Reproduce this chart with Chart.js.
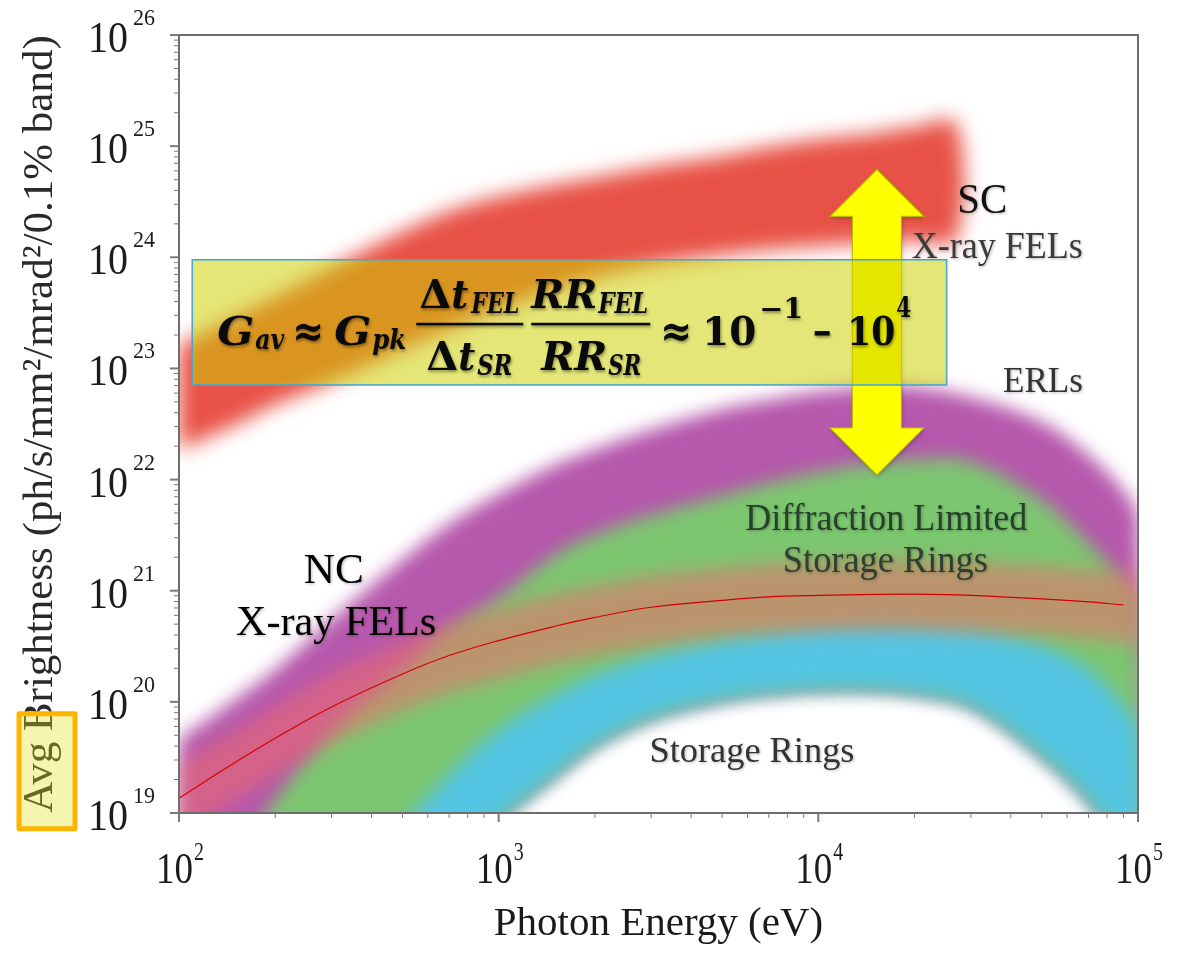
<!DOCTYPE html>
<html><head><meta charset="utf-8">
<script src="https://cdn.jsdelivr.net/npm/chart.js@4.4.1/dist/chart.umd.min.js"></script>
<style>html,body{margin:0;padding:0;background:#fff;overflow:hidden}</style>
</head><body>
<canvas id="c" width="1189" height="953" style="display:block;width:1189px;height:953px"></canvas>
<script>
// ---------------- data ----------------
const xTickValues = [100, 1000, 10000, 100000];
const xTickExponents = ['2', '3', '4', '5'];
const yTickValues = [1e19, 1e20, 1e21, 1e22, 1e23, 1e24, 1e25, 1e26];
const yTickExponents = ['19', '20', '21', '22', '23', '24', '25', '26'];

// SC X-ray FELs (red band)
const scEnergy = [100,150,200,300,500,700,1000,1500,2000,3000,5000,7000,10000,15000,20000,27000];
const scUpper  = [1.6e23,2.9e23,4.4e23,8.1e23,1.7e24,2.6e24,3.5e24,4.5e24,5.2e24,6.5e24,8.1e24,9.8e24,1.15e25,1.3e25,1.5e25,1.6e25];
const scLower  = [1.86e22,3.1e22,4.7e22,7.6e22,1.48e23,2.24e23,3.4e23,5.1e23,6.6e23,8.5e23,1.05e24,1.17e24,1.26e24,1.35e24,1.41e24,1.45e24];

// ERLs / Diffraction Limited Storage Rings / Storage Rings
const ringEnergy = [100,150,200,300,500,700,1000,1500,2000,3000,5000,7000,10000,15000,20000,30000,50000,70000,90000,100000];
const erlUpper  = [4.6e19,1.05e20,1.95e20,5.5e20,1.9e21,4.0e21,7.4e21,1.35e22,1.86e22,2.8e22,4.3e22,5.2e22,6.2e22,6.8e22,6.8e22,5.5e22,3.3e22,1.66e22,7.9e21,4.4e21];
const dlsrUpper = [1.35e18,3.8e18,1.32e19,5.6e19,1.95e20,4.5e20,8.7e20,2.1e21,3.2e21,4.8e21,7.2e21,9.3e21,1.17e22,1.41e22,1.51e22,1.45e22,6.6e21,2.7e21,1.26e21,8.3e20];
const srUpper   = [7.4e16,2.1e17,5.9e17,1.66e18,7.8e18,2.2e19,5.6e19,1.15e20,1.74e20,2.6e20,3.6e20,4.2e20,4.7e20,4.9e20,4.8e20,4.5e20,3.2e20,1.95e20,9.3e19,5.6e19];
const srLower   = [9.3e15,2.6e16,7.4e16,2.1e17,1.1e18,3.1e18,8.7e18,2.2e19,4.1e19,7.2e19,1.05e20,1.2e20,1.29e20,1.29e20,1.2e20,9.3e19,3.3e19,1.32e19,5.0e18,3.1e18];

// NC X-ray FELs (average brightness band + line)
const ncUpper = [2.8e19,5.4e19,9.2e19,1.8e20,3.5e20,5.0e20,6.8e20,9.4e20,1.1e21,1.36e21,1.6e21,1.75e21,1.8e21,1.85e21,1.85e21,1.8e21,1.65e21,1.55e21,1.45e21,1.42e21];
const ncLower = [6.5e18,1.3e19,2.2e19,4.2e19,8.3e19,1.2e20,1.6e20,2.2e20,2.6e20,3.2e20,3.9e20,4.1e20,4.3e20,4.4e20,4.4e20,4.2e20,4.0e20,3.7e20,3.4e20,3.3e20];
const ncLineEnergy = [100,150,200,300,500,700,1000,1500,2000,3000,5000,7000,10000,15000,20000,30000,50000,70000,90000];
const ncLine = [1.36e19,2.86e19,4.71e19,9.0e19,1.78e20,2.61e20,3.56e20,4.79e20,5.75e20,7.1e20,8.18e20,8.79e20,9.07e20,9.27e20,9.31e20,9.07e20,8.43e20,7.93e20,7.45e20];

// ---------------- helpers ----------------
const pts = (xs, ys) => xs.map((x, i) => ({x, y: ys[i]}));
const polygon = (xs, upper, lower) => pts(xs, upper).concat(pts(xs, lower).reverse());
const isDecade = v => { const l = Math.log10(v); return Math.abs(l - Math.round(l)) < 1e-6; };
function logTickList(min, max) {
  const t = [];
  for (let e = Math.round(Math.log10(min)); e < Math.round(Math.log10(max)); e++)
    for (let m = 1; m < 10; m++) t.push({value: m * Math.pow(10, e)});
  t.push({value: max});
  return t;
}
function band(data, color, order, blur) {
  return {data, fill: 'shape', backgroundColor: color, borderWidth: 0, borderColor: 'rgba(0,0,0,0)',
          pointRadius: 0, tension: 0.35, capBezierPoints: false, order, blur};
}
function fitText(ctx, text, x, y, w, font, color, align) {
  ctx.save();
  ctx.font = font; ctx.fillStyle = color; ctx.textBaseline = 'alphabetic'; ctx.textAlign = 'left';
  const m = ctx.measureText(text).width;
  const s = w ? w / m : 1;
  const ww = m * s;
  const x0 = align === 'center' ? x - ww / 2 : (align === 'right' ? x - ww : x);
  ctx.translate(x0, y); ctx.scale(s, 1);
  ctx.fillText(text, 0, 0);
  ctx.restore();
}
const serif = 'Liberation Serif, Times New Roman, serif';

// blur the filled bands (the red NC line stays sharp); frame + tick marks
const blurPlugin = {
  id: 'blurBands',
  setFor(chart, meta) {
    const ds = meta ? chart.data.datasets[meta.index] : null;
    chart.ctx.filter = ds && ds.blur ? 'blur(' + ds.blur + 'px)' : 'none';
  },
  beforeDatasetsDraw(chart) {
    this.seq = chart.getSortedVisibleDatasetMetas().slice().reverse();
    this.setFor(chart, this.seq[0]);
  },
  afterDatasetDraw(chart, args) {
    const i = this.seq.findIndex(m => m.index === args.index);
    this.setFor(chart, this.seq[i + 1]);
  },
  afterDatasetsDraw(chart) {
    chart.ctx.filter = 'none';
    const ctx = chart.ctx, a = chart.chartArea;
    ctx.save();
    ctx.strokeStyle = '#6e6e6e'; ctx.lineWidth = 2;
    ctx.strokeRect(a.left, a.top, a.right - a.left, a.bottom - a.top);
    ctx.strokeStyle = '#7a7a7a';
    chart.scales.y.ticks.forEach(t => {
      const p = chart.scales.y.getPixelForValue(t.value);
      const major = isDecade(t.value);
      ctx.lineWidth = major ? 2 : 1;
      ctx.beginPath(); ctx.moveTo(a.left, p); ctx.lineTo(a.left - (major ? 9 : 5), p); ctx.stroke();
    });
    chart.scales.x.ticks.forEach(t => {
      const p = chart.scales.x.getPixelForValue(t.value);
      const major = isDecade(t.value);
      ctx.lineWidth = major ? 2 : 1;
      ctx.beginPath(); ctx.moveTo(p, a.bottom); ctx.lineTo(p, a.bottom + (major ? 9 : 5)); ctx.stroke();
    });
    ctx.restore();
  }
};

// power-of-ten tick labels: "10" with a raised exponent
const tickLabelPlugin = {
  id: 'tickLabels',
  afterDraw(chart) {
    const ctx = chart.ctx, a = chart.chartArea;
    const col = '#1c1c1c';
    yTickValues.forEach((v, i) => {
      const p = chart.scales.y.getPixelForValue(v);
      fitText(ctx, '10', a.left - 91, p + 17, 40, '44px ' + serif, col, 'left');
      fitText(ctx, yTickExponents[i], a.left - 46, p - 10, 22, '24px ' + serif, col, 'left');
    });
    xTickValues.forEach((v, i) => {
      const p = chart.scales.x.getPixelForValue(v);
      fitText(ctx, '10', p - 23, a.bottom + 70, 37, '45px ' + serif, col, 'left');
      fitText(ctx, xTickExponents[i], p + 15, a.bottom + 47, 10, '25px ' + serif, col, 'left');
    });
  }
};

const annotatePlugin = {
  id: 'annotate',
  afterDraw(chart) {
    const ctx = chart.ctx;
    const X = v => chart.scales.x.getPixelForValue(v);
    const Y = v => chart.scales.y.getPixelForValue(v);

    // ---- region labels ----
    ctx.save();
    ctx.shadowColor = 'rgba(0,0,0,0.28)'; ctx.shadowBlur = 3; ctx.shadowOffsetX = 1; ctx.shadowOffsetY = 1;
    fitText(ctx, 'SC', X(27200), Y(2.5e24), 50, '42px ' + serif, '#111', 'left');
    fitText(ctx, 'X-ray FELs', X(19600), Y(9.9e23), 171, '37px ' + serif, '#3a3a3a', 'left');
    fitText(ctx, 'ERLs', X(37800), Y(6.2e22), 80, '36px ' + serif, '#333', 'left');
    fitText(ctx, 'Diffraction Limited', X(16300), Y(3.5e21), 282, '37px ' + serif, '#27402a', 'center');
    fitText(ctx, 'Storage Rings', X(16200), Y(1.48e21), 205, '37px ' + serif, '#30402f', 'center');
    fitText(ctx, 'Storage Rings', X(6200), Y(2.9e19), 205, '36px ' + serif, '#333', 'center');
    fitText(ctx, 'NC', X(305), Y(1.17e21), 60, '43px ' + serif, '#000', 'center');
    fitText(ctx, 'X-ray FELs', X(310), Y(4.0e20), 200, '42px ' + serif, '#000', 'center');
    ctx.restore();

    // ---- yellow double arrow ----
    const ax = X(15250), yTop = Y(6.17e24), yBot = Y(1.1e22);
    const hw = 47, hh = 47, sw = 24.5;
    ctx.save();
    ctx.shadowColor = 'rgba(0,0,0,0.25)'; ctx.shadowBlur = 4; ctx.shadowOffsetX = 1; ctx.shadowOffsetY = 2;
    ctx.beginPath();
    ctx.moveTo(ax, yTop);
    ctx.lineTo(ax + hw, yTop + hh); ctx.lineTo(ax + sw, yTop + hh);
    ctx.lineTo(ax + sw, yBot - hh); ctx.lineTo(ax + hw, yBot - hh);
    ctx.lineTo(ax, yBot);
    ctx.lineTo(ax - hw, yBot - hh); ctx.lineTo(ax - sw, yBot - hh);
    ctx.lineTo(ax - sw, yTop + hh); ctx.lineTo(ax - hw, yTop + hh);
    ctx.closePath();
    ctx.fillStyle = '#ffff00'; ctx.fill();
    ctx.shadowColor = 'rgba(0,0,0,0)';
    ctx.strokeStyle = 'rgba(185,185,0,0.9)'; ctx.lineWidth = 1.2; ctx.stroke();
    ctx.restore();

    // ---- formula box ----
    const bx0 = X(110), bx1 = X(25200), by0 = Y(9.5e23), by1 = Y(7.1e22);
    ctx.save();
    ctx.fillStyle = 'rgba(204,208,0,0.535)';
    ctx.fillRect(bx0, by0, bx1 - bx0, by1 - by0);
    ctx.strokeStyle = '#46a8cf'; ctx.lineWidth = 1.6;
    ctx.strokeRect(bx0, by0, bx1 - bx0, by1 - by0);
    ctx.restore();

    // ---- formula text ----
    const bi = s => 'italic bold ' + s + 'px DejaVu Serif, serif';
    const bu = s => 'bold ' + s + 'px DejaVu Serif, serif';
    const L = bx0, T = by0, col = '#0a0a0a';
    ctx.save();
    ctx.shadowColor = 'rgba(0,0,0,0.4)'; ctx.shadowBlur = 3; ctx.shadowOffsetX = 1; ctx.shadowOffsetY = 2;
    fitText(ctx, 'G', L + 25, T + 85, 37, bi(40), col);
    fitText(ctx, 'av', L + 63, T + 89, 29, bi(27), col);
    fitText(ctx, '≈', L + 100, T + 86, 32, bu(44), col);
    fitText(ctx, 'G', L + 142, T + 85, 37, bi(40), col);
    fitText(ctx, 'pk', L + 180, T + 89, 34, bi(27), col);
    fitText(ctx, 'Δ', L + 227, T + 48, 32, bu(40), col);
    fitText(ctx, 't', L + 259, T + 48, 17, bi(40), col);
    fitText(ctx, 'FEL', L + 279, T + 53, 48, bi(27), col);
    fitText(ctx, 'Δ', L + 234, T + 110, 32, bu(40), col);
    fitText(ctx, 't', L + 266, T + 110, 17, bi(40), col);
    fitText(ctx, 'SR', L + 285, T + 115, 35, bi(27), col);
    fitText(ctx, 'RR', L + 339, T + 48, 66, bi(40), col);
    fitText(ctx, 'FEL', L + 406, T + 53, 50, bi(27), col);
    fitText(ctx, 'RR', L + 349, T + 110, 66, bi(40), col);
    fitText(ctx, 'SR', L + 416, T + 115, 33, bi(27), col);
    fitText(ctx, '≈', L + 468, T + 86, 32, bu(44), col);
    fitText(ctx, '10', L + 510, T + 85, 54, bu(40), col);
    fitText(ctx, '−1', L + 567, T + 58, 44, bu(27), col);
    fitText(ctx, '−', L + 620, T + 86, 20, bu(40), col);
    fitText(ctx, '10', L + 655, T + 85, 48, bu(40), col);
    fitText(ctx, '4', L + 704, T + 57, 15, bu(27), col);
    ctx.fillStyle = col;
    ctx.fillRect(L + 224, T + 63, 107, 2.6);
    ctx.fillRect(L + 339, T + 63, 119, 2.6);
    ctx.restore();

    // ---- "Avg" highlight over the y-axis title ----
    const ys = chart.scales.y;
    ctx.save();
    ctx.font = '43px ' + serif;
    const full = ctx.measureText(ys.options.title.text).width;
    const wAvg = ctx.measureText('Avg').width;
    const cy = (chart.chartArea.top + chart.chartArea.bottom) / 2;
    const start = cy + full / 2;
    const rx = 19, rw = 56, ry0 = start - wAvg - 28, ry1 = start + 16;
    ctx.fillStyle = 'rgba(226,226,20,0.34)';
    ctx.fillRect(rx, ry0, rw, ry1 - ry0);
    ctx.strokeStyle = '#ffb400'; ctx.lineWidth = 5; ctx.lineJoin = 'round';
    ctx.strokeRect(rx, ry0, rw, ry1 - ry0);
    ctx.restore();
  }
};

// ---------------- chart ----------------
const datasets = [
  {data: pts(ncLineEnergy, ncLine), fill: false, borderColor: '#d40000', borderWidth: 1.2,
   pointRadius: 0, tension: 0.4, order: 1},                                   // NC line
  band(polygon(ringEnergy, ncUpper, ncLower), 'rgba(238,108,108,0.55)', 2, 9), // NC band
  band(polygon(scEnergy, scUpper, scLower), 'rgb(232,82,70)', 3, 10),          // SC X-ray FELs
  band(polygon(ringEnergy, srUpper, srLower), 'rgb(84,197,226)', 4, 9),        // Storage Rings
  band(polygon(ringEnergy, dlsrUpper, srLower), 'rgb(124,198,112)', 5, 9),     // DLSR
  band(polygon(ringEnergy, erlUpper, srLower), 'rgb(182,88,172)', 6, 9)        // ERLs
];

new Chart(document.getElementById('c'), {
  type: 'line',
  data: {datasets},
  options: {
    responsive: false, animation: false, devicePixelRatio: 1,
    layout: {padding: {left: 0, top: 35, right: 51, bottom: 0}},
    plugins: {legend: {display: false}, tooltip: {enabled: false}},
    scales: {
      x: {
        type: 'logarithmic', min: 100, max: 100000,
        afterBuildTicks: s => { s.ticks = logTickList(100, 100000); },
        afterFit: s => { s.height = 140; },
        ticks: {autoSkip: false, maxRotation: 0, callback: () => ''},
        grid: {display: false},
        border: {display: false},
        title: {display: true, text: 'Photon Energy (eV)', color: '#1a1a1a',
                font: {family: 'Liberation Serif', size: 41}, padding: {top: 0, bottom: 4}}
      },
      y: {
        type: 'logarithmic', min: 1e19, max: 1e26,
        afterBuildTicks: s => { s.ticks = logTickList(1e19, 1e26); },
        afterFit: s => { s.width = 179; },
        ticks: {autoSkip: false, callback: () => ''},
        grid: {display: false},
        border: {display: false},
        title: {display: true, text: 'Avg Brightness (ph/s/mm²/mrad²/0.1% band)', color: '#2a2a2a',
                font: {family: 'Liberation Serif', size: 43}, padding: {top: 15, bottom: 0}}
      }
    }
  },
  plugins: [blurPlugin, tickLabelPlugin, annotatePlugin]
});
</script>
</body></html>
